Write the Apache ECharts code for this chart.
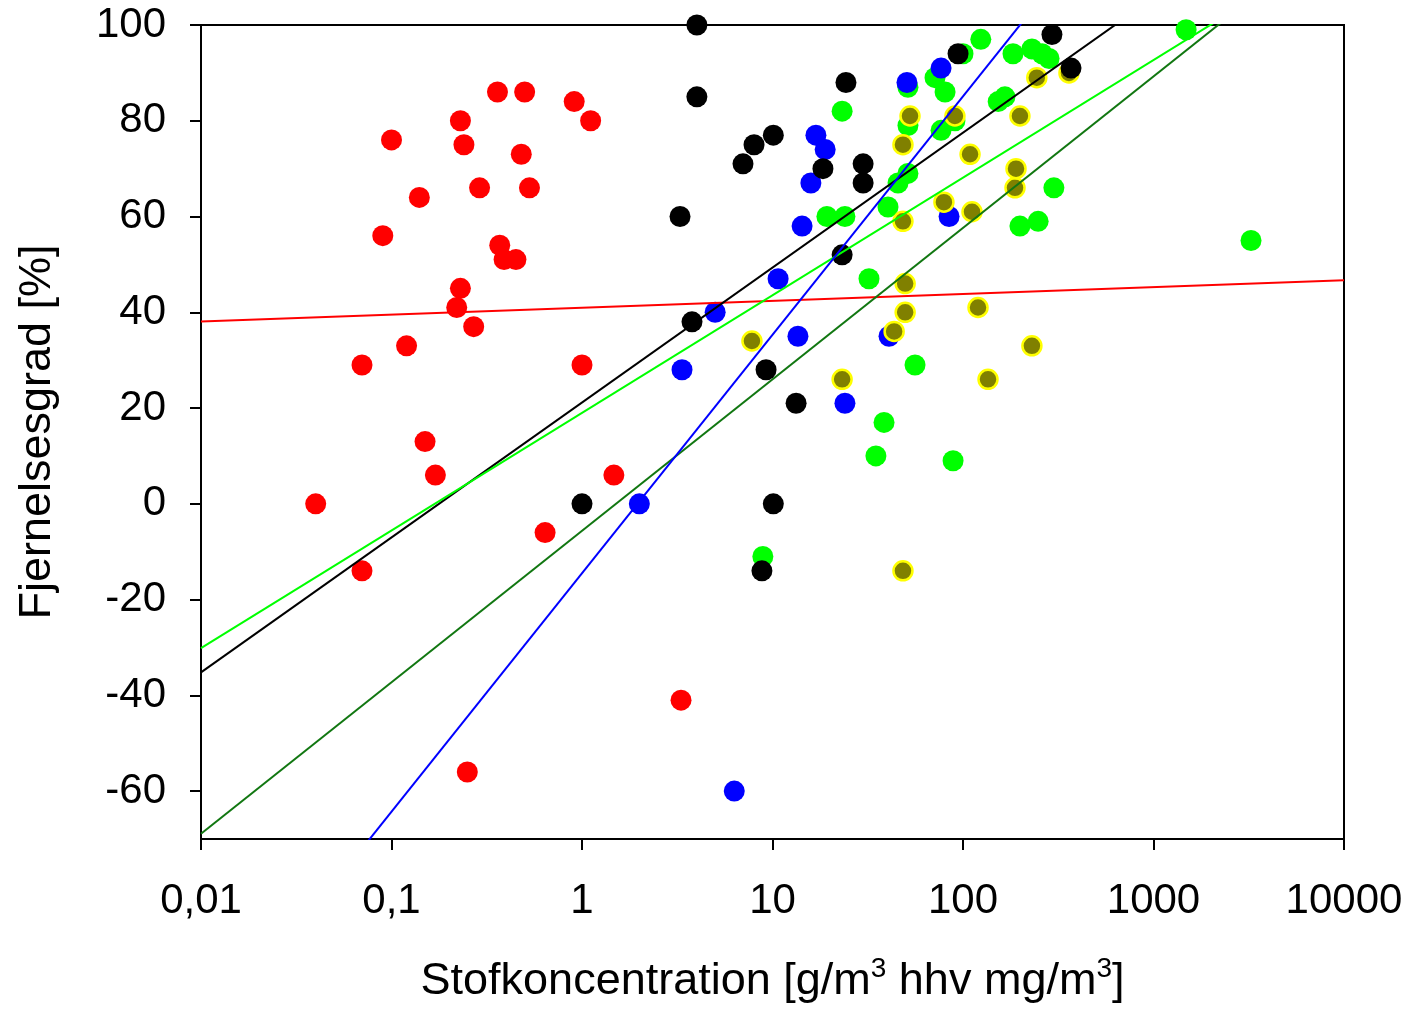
<!DOCTYPE html>
<html>
<head>
<meta charset="utf-8">
<title>Fjernelsesgrad</title>
<script src="https://cdn.jsdelivr.net/npm/echarts@6.0.0/dist/echarts.min.js"></script>
<style>
  html, body { margin: 0; padding: 0; background: #ffffff; overflow: hidden; }
  #chart { width: 1414px; height: 1014px; }
</style>
</head>
<body>
<div id="chart"></div>
<script>
// Concentration (x) and removal degree in % (y) per group
const redX = [0.04, 0.07, 0.07, 0.09, 0.1, 0.12, 0.14, 0.15, 0.17, 0.22, 0.23, 0.23, 0.24, 0.25, 0.27, 0.29, 0.36, 0.37, 0.39, 0.45, 0.48, 0.50, 0.53, 0.64, 0.91, 1.0, 1.11, 1.47, 3.31];
const redY = [0, -14, 29, 56, 76, 33, 64, 13, 6, 41, 80, 45, 75, -56, 37, 66, 86, 54, 51, 51, 73, 86, 66, -6, 84, 29, 80, 6, -41];

const greenX = [8.9, 19.3, 23.2, 24.0, 32.1, 34.9, 38.5, 40.4, 45.6, 51.4, 51.4, 51.4, 56.0, 71.3, 76.7, 80.5, 88.7, 90.7, 100, 124, 153, 166, 183, 199, 230, 248, 260, 283, 300, 1483, 3250];
const greenY = [-11, 60, 82, 60, 47, 10, 17, 62, 67, 69, 79, 87, 29, 89, 78, 86, 9, 80, 94, 97, 84, 85, 94, 58, 95, 59, 94, 93, 66, 99, 55];

const blueX = [2.0, 3.35, 5.0, 6.3, 10.7, 13.6, 14.3, 15.9, 16.9, 18.9, 24.0, 40.9, 50.8, 76.7, 84.5];
const blueY = [0, 28, 40, -60, 47, 35, 58, 67, 77, 74, 21, 35, 88, 91, 60];

const oliveX = [7.8, 23.2, 43.5, 48.4, 48.4, 48.4, 49.7, 49.7, 52.7, 79.4, 90.7, 108.9, 111.5, 119.9, 135.3, 187.5, 189.8, 199, 230, 244, 360];
const oliveY = [34, 26, 36, -14, 59, 75, 46, 40, 81, 63, 81, 73, 61, 41, 26, 66, 70, 81, 33, 89, 90];

const blackX = [1.0, 3.27, 3.78, 4.01, 4.01, 7.0, 8.0, 8.8, 9.25, 10.1, 10.1, 13.3, 18.4, 23.2, 24.3, 29.9, 29.9, 94.2, 293, 369];
const blackY = [0, 60, 38, 100, 85, 71, 75, -14, 28, 77, 0, 21, 70, 52, 88, 71, 67, 94, 98, 91];

// Log-linear trend lines: y = intercept + slope * log10(x)
const trendNames = ['red', 'black', 'green', 'olive', 'blue'];
const trendColors = ['#ff0000', '#000000', '#00ff00', '#117711', '#0000ff'];
const trendIntercepts = [40.95, 21.15, 19.0, -5.63, -14.5];
const trendSlopes = [1.44, 28.18, 24.56, 31.63, 49.8];

// Axis ticks
const xRange = [0.01, 10000];
const xTickLabels = ['0,01', '0,1', '1', '10', '100', '1000', '10000'];
const yRange = [-70, 100];
const yTicks = [-60, -40, -20, 0, 20, 40, 60, 80, 100];

const FONT = '"Liberation Sans", Arial, Helvetica, sans-serif';

function pairs(xs, ys) {
  return xs.map((x, i) => [x, ys[i]]);
}

function pointSeries(name, xs, ys, style, size) {
  return {
    name: name,
    type: 'scatter',
    symbol: 'circle',
    symbolSize: size,
    data: pairs(xs, ys),
    itemStyle: Object.assign({ opacity: 1 }, style),
    z: 3,
    emphasis: { disabled: true }
  };
}

function trendSeries(i) {
  const data = xRange.map(x => [x, trendIntercepts[i] + trendSlopes[i] * Math.log10(x)]);
  return {
    name: trendNames[i] + ' trend',
    type: 'line',
    data: data,
    symbol: 'none',
    clip: true,
    lineStyle: { color: trendColors[i], width: 2 },
    z: 5,
    emphasis: { disabled: true }
  };
}

const chart = echarts.init(document.getElementById('chart'), null, { renderer: 'canvas', width: 1414, height: 1014 });

const option = {
  animation: false,
  backgroundColor: '#ffffff',
  grid: {
    left: 201, top: 25, width: 1143, height: 820,
    show: true, borderColor: '#000000', borderWidth: 2, backgroundColor: 'transparent'
  },
  xAxis: {
    type: 'log',
    logBase: 10,
    min: xRange[0],
    max: xRange[1],
    name: 'Stofkoncentration [g/m{sup|3} hhv mg/m{sup|3}]',
    nameLocation: 'middle',
    nameGap: 116,
    nameTextStyle: {
      fontFamily: FONT, fontSize: 45, color: '#000000', lineHeight: 54,
      rich: {
        sup: { fontFamily: FONT, fontSize: 28, lineHeight: 28, verticalAlign: 'top', color: '#000000' }
      }
    },
    axisLine: { show: true, onZero: false, lineStyle: { color: '#000000', width: 2 } },
    axisTick: { show: true, length: 11, lineStyle: { color: '#000000', width: 2 } },
    minorTick: { show: false },
    splitLine: { show: false },
    axisLabel: {
      fontFamily: FONT, fontSize: 42, color: '#000000', margin: 41,
      formatter: v => xTickLabels[Math.round(Math.log10(v)) + 2]
    }
  },
  yAxis: {
    type: 'value',
    min: yRange[0],
    max: yRange[1],
    name: 'Fjernelsesgrad [%]',
    nameLocation: 'middle',
    nameRotate: 90,
    nameGap: 141,
    nameTextStyle: { fontFamily: FONT, fontSize: 45, color: '#000000' },
    axisLine: { show: true, onZero: false, lineStyle: { color: '#000000', width: 2 } },
    axisTick: { show: true, length: 11, customValues: yTicks, lineStyle: { color: '#000000', width: 2 } },
    splitLine: { show: false },
    axisLabel: {
      fontFamily: FONT, fontSize: 42, color: '#000000', margin: 35,
      customValues: yTicks
    }
  },
  series: [
    pointSeries('red', redX, redY, { color: '#ff0000' }, 21),
    pointSeries('green', greenX, greenY, { color: '#00ff00' }, 21),
    pointSeries('blue', blueX, blueY, { color: '#0000ff' }, 21),
    pointSeries('olive', oliveX, oliveY, { color: '#808000', borderColor: '#ffff00', borderWidth: 2.5 }, 19),
    pointSeries('black', blackX, blackY, { color: '#000000' }, 21)
  ].concat(trendNames.map((n, i) => trendSeries(i)))
};

chart.setOption(option);
</script>
</body>
</html>
